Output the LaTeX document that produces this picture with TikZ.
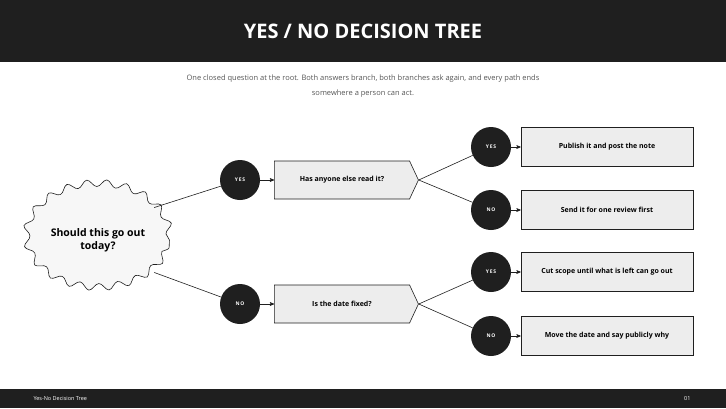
\documentclass[tikz,border=0pt]{standalone}
\usepackage{fontspec}
\setmainfont{Open Sans}
\usetikzlibrary{arrows,positioning,calc,shapes.geometric,shapes.symbols,decorations.pathmorphing}
\definecolor{barblack}{HTML}{1F1F1F}
\definecolor{boxgray}{HTML}{EDEDED}
\definecolor{subgray}{HTML}{555555}
\tikzset{
  answer/.style={circle,fill=barblack,minimum size=40pt,inner sep=0pt,text=white,font=\fontsize{5}{6}\selectfont\bfseries},
  question/.style={signal,signal to=east,signal pointer angle=130,draw=barblack,fill=boxgray,minimum width=144pt,minimum height=38pt,inner sep=0pt,font=\fontsize{7}{8}\selectfont\bfseries,semithick},
  outcome/.style={rectangle,draw=barblack,fill=boxgray,minimum width=172pt,minimum height=39pt,font=\fontsize{7}{8}\selectfont\bfseries,semithick},
  link/.style={semithick,barblack},
}
\begin{document}
\begin{tikzpicture}[x=1pt,y=-1pt,>=stealth']
    \useasboundingbox (0,0) rectangle (726,408);
    
        \fill[barblack] (0,0) rectangle (726,62);
        \fill[barblack] (0,389) rectangle (726,408);
        \node[text=white,font=\fontsize{20}{24}\selectfont\bfseries] (title) at (363,31) {YES / NO DECISION TREE};
        \node[text=subgray,align=center,font=\fontsize{7.5}{15}\selectfont] (intro) at (363,86) {One closed question at the root. Both answers branch, both branches ask again, and every path ends\\somewhere a person can act.};
        \node[text=white,anchor=west,font=\fontsize{5.5}{6}\selectfont] (foottxt) at (30,398.5) {Yes-No Decision Tree};
        \node[text=white,anchor=east,font=\fontsize{5.5}{6}\selectfont] (footnum) at (694,398.5) {01};
        
        % root question
        \node[ellipse,draw=barblack,fill=white!97!black,minimum width=128pt,minimum height=104pt,align=center,semithick,
              decorate,decoration={snake,segment length=19.5pt,amplitude=3.5pt},
              font=\fontsize{10.5}{13}\selectfont\bfseries] (root) at (98,240) {Should this go out\\today?};
        
        \node[answer] (yes) at (240,180) {Y\,E\,S};
        \node[answer] (no) at (240,304) {N\,O};
        
        \node[question] (read) at (342,180) {Has anyone else read it?};
        \node[question] (fixed) at (342,304) {Is the date fixed?};
        
        \node[answer] (yesread) at (491,147) {Y\,E\,S};
        \node[answer] (noread) at (491,210) {N\,O};
        \node[answer] (yesfixed) at (491,272) {Y\,E\,S};
        \node[answer] (nofixed) at (491,336) {N\,O};
        
        \node[outcome] (publish) at (607,147) {Publish it and post the note};
        \node[outcome] (review) at (607,210) {Send it for one review first};
        \node[outcome] (cut) at (607,272) {Cut scope until what is left can go out};
        \node[outcome] (move) at (607,336) {Move the date and say publicly why};
        
        \draw[link] (root.30) -- (yes);
        \draw[link] (root.-30) -- (no);
        \draw[link] (read.east) -- (yesread);
        \draw[link] (read.east) -- (noread);
        \draw[link] (fixed.east) -- (yesfixed);
        \draw[link] (fixed.east) -- (nofixed);
        
        \foreach \a/\b in {yes/read,no/fixed,yesread/publish,noread/review,yesfixed/cut,nofixed/move}
            \draw[link,->] (\a) -- (\b.west);
        
        \end{tikzpicture}
\end{document}
